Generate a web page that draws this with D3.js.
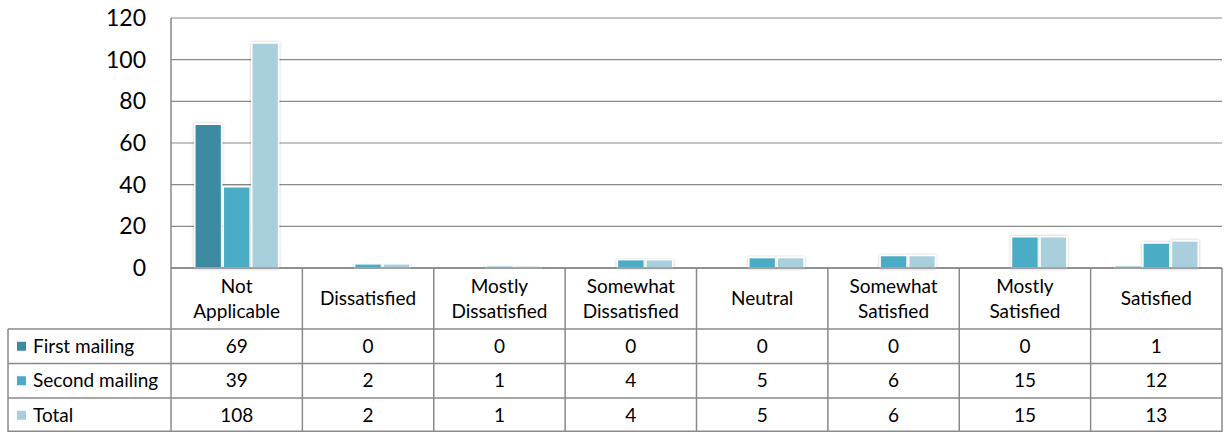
<!DOCTYPE html>
<html>
<head>
<meta charset="utf-8">
<script src="https://cdn.jsdelivr.net/npm/d3@7"></script>
<style>
  body { margin: 0; background: #fff; }
  svg { display: block; font-family: Lato, "Open Sans", sans-serif; }
</style>
</head>
<body>
<div id="chart"></div>
<script>
// data
const categories = ["Not Applicable", "Dissatisfied", "Mostly Dissatisfied", "Somewhat Dissatisfied",
                    "Neutral", "Somewhat Satisfied", "Mostly Satisfied", "Satisfied"];
const categoryLines = [["Not", "Applicable"], ["Dissatisfied"], ["Mostly", "Dissatisfied"],
                       ["Somewhat", "Dissatisfied"], ["Neutral"], ["Somewhat", "Satisfied"],
                       ["Mostly", "Satisfied"], ["Satisfied"]];
const seriesNames = ["First mailing", "Second mailing", "Total"];
const firstMailing = [69, 0, 0, 0, 0, 0, 0, 1];
const secondMailing = [39, 2, 1, 4, 5, 6, 15, 12];
const total = [108, 2, 1, 4, 5, 6, 15, 13];
const yTicks = [0, 20, 40, 60, 80, 100, 120];
const colors = ["#3d8ba3", "#4bacc6", "#a9cfdc"];

const seriesValues = [firstMailing, secondMailing, total];

const width = 1224, height = 432;
const plot = {left: 171, right: 1222, top: 18, bottom: 268};
const tableLeft = 8;
const headerBottom = 329;
const rowH = 34.5;
const gridColor = "#8a8a8a";

const svg = d3.select("#chart").append("svg")
  .attr("width", width)
  .attr("height", height);

// scales
const x0 = d3.scaleBand()
  .domain(categories)
  .range([plot.left, plot.right])
  .padding(0);

const x1 = d3.scaleBand()
  .domain(seriesNames)
  .range([x0.bandwidth() * 0.168, x0.bandwidth() * 0.832])
  .padding(0.06);

const y = d3.scaleLinear()
  .domain([0, 120])
  .range([plot.bottom, plot.top]);

// gridlines
svg.append("g")
  .selectAll("line")
  .data(yTicks)
  .join("line")
    .attr("x1", plot.left)
    .attr("x2", plot.right)
    .attr("y1", d => y(d))
    .attr("y2", d => y(d))
    .attr("stroke", gridColor)
    .attr("stroke-width", d => d === 0 ? 1.5 : 1.2);

// y axis labels
const yAxis = svg.append("g")
  .attr("transform", `translate(${plot.left}, 0)`)
  .call(d3.axisLeft(y).tickValues(yTicks).tickSize(0).tickPadding(25));
yAxis.select(".domain").remove();
yAxis.selectAll("text")
  .attr("font-size", "23px")
  .attr("font-family", "Lato, sans-serif")
  .attr("fill", "#000");

// bars, each one grouped per category
const rows = [];
categories.forEach((c, i) => {
  seriesNames.forEach((s, j) => rows.push({cat: c, series: s, value: seriesValues[j][i], color: colors[j]}));
});

// soft shadow
const defs = svg.append("defs");
const filt = defs.append("filter").attr("id", "shadow")
  .attr("x", "-20%").attr("y", "-20%").attr("width", "140%").attr("height", "140%");
filt.append("feDropShadow")
  .attr("dx", 0).attr("dy", 0).attr("stdDeviation", 1.5)
  .attr("flood-color", "#000").attr("flood-opacity", 0.25);

svg.append("g")
  .selectAll("rect")
  .data(rows.filter(d => d.value > 0))
  .join("rect")
    .attr("x", d => x0(d.cat) + x1(d.series))
    .attr("y", d => y(d.value))
    .attr("width", x1.bandwidth())
    .attr("height", d => y(0) - y(d.value))
    .attr("fill", d => d.color)
    .attr("stroke", "#fff")
    .attr("stroke-width", 1.5)
    .attr("filter", "url(#shadow)");

// redraw the axis lines on top
svg.append("line")
  .attr("x1", plot.left).attr("x2", plot.right)
  .attr("y1", plot.bottom).attr("y2", plot.bottom)
  .attr("stroke", gridColor).attr("stroke-width", 1.5);
svg.append("line")
  .attr("x1", plot.left).attr("x2", plot.left)
  .attr("y1", plot.top).attr("y2", height)
  .attr("stroke", gridColor).attr("stroke-width", 1.5);

// data table
const table = svg.append("g").attr("font-size", "19px").attr("fill", "#000");
const rowTops = seriesNames.map((s, i) => headerBottom + i * rowH);

// vertical separators between categories
table.selectAll(".vsep")
  .data(categories)
  .join("line")
    .attr("class", "vsep")
    .attr("x1", d => x0(d) + x0.bandwidth())
    .attr("x2", d => x0(d) + x0.bandwidth())
    .attr("y1", plot.bottom)
    .attr("y2", height)
    .attr("stroke", gridColor).attr("stroke-width", 1.5);

// horizontal row lines
table.selectAll(".hsep")
  .data(rowTops.concat([height - 0.75]))
  .join("line")
    .attr("class", "hsep")
    .attr("x1", tableLeft)
    .attr("x2", plot.right)
    .attr("y1", d => d)
    .attr("y2", d => d)
    .attr("stroke", gridColor).attr("stroke-width", 1.5);

table.append("line")
  .attr("x1", tableLeft).attr("x2", tableLeft)
  .attr("y1", headerBottom).attr("y2", height)
  .attr("stroke", gridColor).attr("stroke-width", 1.5);

// category header labels
const headerMid = (plot.bottom + headerBottom) / 2;
categories.forEach((c, i) => {
  const lines = categoryLines[i];
  const t = table.append("text")
    .attr("text-anchor", "middle")
    .attr("x", x0(c) + x0.bandwidth() / 2);
  lines.forEach((ln, k) => {
    t.append("tspan")
      .attr("x", x0(c) + x0.bandwidth() / 2)
      .attr("y", headerMid + (k - (lines.length - 1) / 2) * 25)
      .attr("dy", "0.35em")
      .text(ln);
  });
});

// legend keys + names
seriesNames.forEach((s, j) => {
  const cy = rowTops[j] + rowH / 2;
  table.append("rect")
    .attr("x", 17).attr("y", cy - 4.5)
    .attr("width", 9).attr("height", 9)
    .attr("fill", colors[j]);
  table.append("text")
    .attr("x", 33).attr("y", cy).attr("dy", "0.35em")
    .text(s);
  categories.forEach((c, i) => {
    table.append("text")
      .attr("text-anchor", "middle")
      .attr("x", x0(c) + x0.bandwidth() / 2)
      .attr("y", cy).attr("dy", "0.35em")
      .text(seriesValues[j][i]);
  });
});
</script>
</body>
</html>
